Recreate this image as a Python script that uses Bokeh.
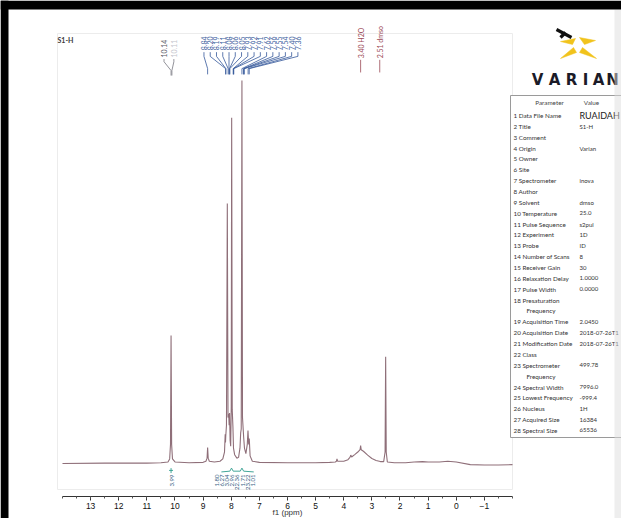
import numpy as np
from bokeh.plotting import figure
from bokeh.models import Range1d, LinearAxis, FixedTicker
from bokeh.core.properties import value
from bokeh.embed import file_html
from bokeh.resources import INLINE

# ---------------- data ----------------
# spectrum trace: (ppm, intensity) points
trace_points = [
    (14.0, 0.0), (12.5, 0.1), (11.0, 0.1), (10.5, 0.2), (10.25, 0.4), (10.19, 1.2),
    (10.16, 5.0), (10.14, 33.4), (10.12, 5.0), (10.09, 1.2), (10.0, 0.4), (9.5, 0.2),
    (9.0, 0.3), (8.90, 0.6), (8.86, 1.4), (8.84, 4.2), (8.82, 1.4), (8.78, 0.6),
    (8.6, 0.4), (8.40, 0.6), (8.30, 1.2), (8.24, 3.0), (8.215, 7.6), (8.205, 5.5),
    (8.195, 7.2), (8.17, 10.0), (8.14, 67.9), (8.115, 12.0), (8.09, 13.0), (8.075, 10.0),
    (8.06, 13.2), (8.04, 6.0), (8.02, 4.5), (8.00, 15.0), (7.985, 90.3), (7.965, 14.0),
    (7.94, 9.5), (7.92, 4.0), (7.88, 2.3), (7.80, 1.4), (7.74, 1.6), (7.69, 4.0),
    (7.665, 8.0), (7.645, 9.0), (7.62, 100.0), (7.60, 12.0), (7.56, 7.0), (7.53, 4.0),
    (7.48, 2.6), (7.43, 5.0), (7.405, 8.6), (7.38, 5.0), (7.36, 6.5), (7.33, 2.0),
    (7.25, 0.6), (7.0, 0.3), (6.0, 0.2), (5.0, 0.2), (4.5, 0.3), (4.30, 0.4),
    (4.26, 0.6), (4.24, 1.2), (4.22, 0.6), (4.0, 0.6), (3.85, 1.0), (3.78, 1.6),
    (3.75, 2.2), (3.72, 1.7), (3.6, 2.4), (3.5, 3.0), (3.42, 3.6), (3.40, 4.7),
    (3.38, 3.6), (3.3, 3.2), (3.15, 2.2), (3.0, 1.3), (2.85, 0.8), (2.7, 0.5),
    (2.58, 0.5), (2.53, 3.0), (2.51, 27.9), (2.49, 3.0), (2.45, 0.4), (2.2, 0.2),
    (1.8, 0.2), (1.5, 0.4), (1.2, 0.5), (1.0, 0.4), (0.6, 0.4), (0.3, 0.6),
    (0.0, 0.4), (-0.5, -0.3), (-1.0, -0.4), (-1.5, -0.4), (-2.0, -0.3),
]
trace_ppm = [a for a, b in trace_points]
trace_int = [b for a, b in trace_points]

tick_values = [13, 12, 11, 10, 9, 8, 7, 6, 5, 4, 3, 2, 1, 0, -1]

grey_labels = ["10.14", "10.11"]
blue_labels = ["8.84", "8.20", "8.19", "8.11", "8.08", "8.06", "8.05", "7.93",
               "7.92", "7.91", "7.62", "7.56", "7.55", "7.54", "7.40", "7.36"]
solvent_labels = ["3.40 H2O", "2.51 dmso"]
solvent_ppm = [3.40, 2.72]

integral_single = ["3.99"]
integral_group = ["1.80", "6.27", "3.04", "2.96", "22.36", "1.71", "23.22", "1.01"]

params = ["Data File Name", "Title", "Comment", "Origin", "Owner", "Site", "Spectrometer",
          "Author", "Solvent", "Temperature", "Pulse Sequence", "Experiment", "Probe",
          "Number of Scans", "Receiver Gain", "Relaxation Delay", "Pulse Width",
          "Presaturation\nFrequency", "Acquisition Time", "Acquisition Date",
          "Modification Date", "Class", "Spectrometer\nFrequency", "Spectral Width",
          "Lowest Frequency", "Nucleus", "Acquired Size", "Spectral Size"]
param_values = ["RUAIDAH", "S1-H", "", "Varian", "", "", "inova", "", "dmso", "25.0",
                "s2pul", "1D", "ID", "8", "30", "1.0000", "0.0000", "", "2.0450",
                "2018-07-26T1", "2018-07-26T1", "", "499.78", "7996.0",
                "-999.4", "1H", "16384", "65536"]

# ---------------- figure ----------------
p = figure(width=621, height=518, output_backend="svg", toolbar_location=None,
           x_range=Range1d(16.2044, -5.8756), y_range=Range1d(-14.36, 120.888),
           x_axis_type=None, y_axis_type=None, min_border=0,
           outline_line_color=None, background_fill_color="white",
           border_fill_color="white")
p.extra_x_ranges = {"px": Range1d(0, 621)}
p.extra_y_ranges = {"px": Range1d(518, 0)}
PX = dict(x_range_name="px", y_range_name="px")

FONT = "Lato"


def txt(x, y, t, size, color, align="left", baseline="middle", angle=0.0,
        font=FONT, style="normal", px=True):
    kw = PX if px else {}
    p.text(x=x, y=y, text=t, text_font_size=f"{size}px", text_color=color,
           text_align=align, text_baseline=baseline, angle=angle,
           text_font=value(font), text_font_style=style, **kw)


# faint plot frame
p.quad(left=[57], right=[512], top=[33], bottom=[489], fill_color=None,
       line_color="#ececec", line_width=1, **PX)
txt([57], [39], ["S1-H"], 7, "#3a3a3a", style="bold")

# spectrum
p.line(trace_ppm, trace_int, line_color="#8f6f79", line_width=1.1)

# axis
minor = list(np.arange(-2, 14.01, 0.5))
ax = LinearAxis(ticker=FixedTicker(ticks=tick_values, minor_ticks=minor),
                bounds=(-2, 14), fixed_location=-8.616, axis_label="f1 (ppm)")
ax.axis_line_color = "#333333"
ax.major_tick_line_color = "#333333"
ax.minor_tick_line_color = "#555555"
ax.major_tick_in = 0
ax.major_tick_out = 4
ax.minor_tick_in = 0
ax.minor_tick_out = 2
ax.major_label_text_font = "Liberation Sans"
ax.major_label_text_font_size = "8.5px"
ax.major_label_text_color = "#111111"
ax.major_label_standoff = 2
ax.axis_label_text_font = "Liberation Sans"
ax.axis_label_text_font_size = "8px"
ax.axis_label_text_font_style = "normal"
ax.axis_label_text_color = "#333333"
ax.axis_label_standoff = -4
p.add_layout(ax, "below")

# ---- peak labels (data coordinates) ----
ANG = np.pi / 2
blue_x = list(np.linspace(8.97, 5.63, len(blue_labels)))
txt(blue_x, [107.9] * len(blue_labels), blue_labels, 7, "#3f64a0",
    angle=ANG, px=False)
bxs, bys = [], []
for lx, lab in zip(blue_x, blue_labels):
    pk = float(lab)
    bxs.append([lx, lx, pk, pk])
    bys.append([107.4, 106.3, 103.1, 101.6])
p.multi_line(bxs, bys, line_color="#35589a", line_width=0.8)

grey_x = [10.39, 10.04]
txt([grey_x[0]], [106.0], [grey_labels[0]], 7, "#5a5a66", angle=ANG, px=False)
txt([grey_x[1]], [106.0], [grey_labels[1]], 7, "#c4c4cc", angle=ANG, px=False)
gxs, gys = [], []
for lx, lab in zip(grey_x, grey_labels):
    pk = float(lab)
    gxs.append([lx, lx, pk, pk])
    gys.append([105.6, 104.9, 102.6, 101.3])
p.multi_line(gxs, gys, line_color="#777780", line_width=0.8)

txt(solvent_ppm, [105.8] * 2, solvent_labels, 7, "#9b4a55", angle=ANG, px=False)
p.multi_line([[x, x] for x in solvent_ppm], [[105.4, 102.1]] * 2,
             line_color="#9b4a55", line_width=0.8)

# ---- integrals ----
p.multi_line([[10.21, 10.07], [10.14, 10.14]], [[-1.8, -1.8], [-1.2, -2.5]],
             line_color="#2e9c8c", line_width=0.9)
txt([10.11], [-2.9], integral_single, 6, "#3a5f85", align="right", angle=ANG, px=False)
p.line([8.35, 8.05, 7.99, 7.93, 7.68, 7.62, 7.56, 7.20],
       [-2.2, -2.0, -1.2, -2.0, -2.0, -1.2, -2.0, -2.2],
       line_color="#2e9c8c", line_width=0.9)
ig_x = list(np.linspace(8.51, 7.23, len(integral_group)))
txt(ig_x, [-2.9] * len(integral_group), integral_group, 6, "#3a5f85",
    align="right", angle=ANG, px=False)

# ---------------- parameter table ----------------
p.quad(left=[510], right=[640], top=[95], bottom=[437], fill_color="white",
       line_color="#9a9a9a", line_width=1, **PX)
txt([549], [102], ["Parameter"], 6.3, "#444444", align="center")
txt([591], [102], ["Value"], 6.3, "#444444", align="center")
row_y = []
cur = 115.0
for name in params:
    row_y.append(cur)
    cur += 10.86 * (2 if "\n" in name else 1)
names1, names_y, names2, names2_y = [], [], [], []
for i, (name, y) in enumerate(zip(params, row_y)):
    parts = name.split("\n")
    names1.append(f"{i + 1} {parts[0]}")
    names_y.append(y)
    if len(parts) > 1:
        names2.append(parts[1])
        names2_y.append(y + 10.86)
txt([513] * len(names1), names_y, names1, 6.3, "#333333")
txt([526] * len(names2), names2_y, names2, 6.3, "#333333")
txt([579], [row_y[0]], [param_values[0]], 9, "#222222")
txt([579] * (len(param_values) - 1), row_y[1:], param_values[1:], 6.0, "#333333")

# ---------------- VARIAN logo ----------------
p.multi_line([[556, 571], [560, 565]], [[29, 37], [37, 32]], line_color="#111111",
             line_width=3.2, **PX)
p.patches([[579, 595, 584], [575, 560, 572], [560, 573, 576], [596, 582, 579]],
          [[37, 40, 44], [38, 41, 44], [58, 47, 52], [58, 47, 52]],
          fill_color="#f1c31c", line_color="#f1c31c", line_width=0.5, **PX)
varian = list("VARIAN")
txt([537, 554, 571, 585, 598, 612], [79] * 6, varian, 15, "#1b1b28",
    align="center", font="DejaVu Sans", style="bold")

# ---------------- scan borders ----------------
p.quad(left=[614], right=[621], top=[9], bottom=[518], fill_color="#dddddd",
       fill_alpha=0.5, line_color=None, **PX)
p.quad(left=[0, 0], right=[621, 8], top=[0, 0], bottom=[9, 518],
       fill_color="black", line_color=None, **PX)

open("out.html", "w").write(file_html(p, INLINE))
